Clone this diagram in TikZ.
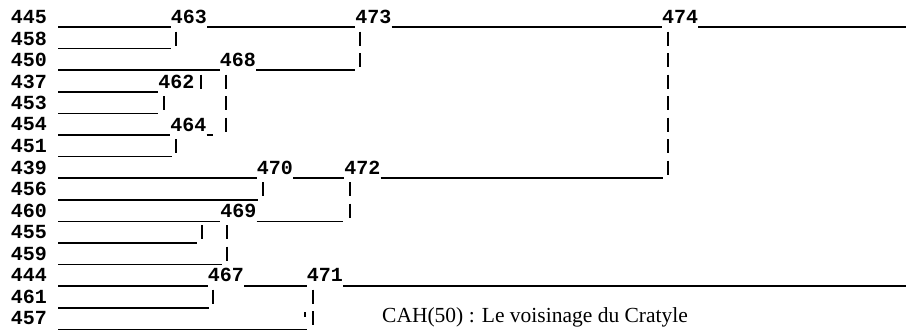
\documentclass[tikz,border=0pt]{standalone}
\usepackage{fontspec}
\setmainfont{Liberation Serif}
\newfontfamily\monof{Liberation Mono}
\begin{document}
\begin{tikzpicture}[x=1pt,y=-1pt,
  lab/.style={font=\monof\bfseries\fontsize{20}{20}\selectfont, inner sep=0pt, anchor=center},
  hl/.style={line width=1.5pt},
  vb/.style={line width=1.5pt, dash pattern=on 14pt off 7.5pt},
  capt/.style={anchor=base west, inner sep=0pt, font=\fontsize{21.5}{24}\selectfont}
]
\useasboundingbox (0,0) rectangle (906,332);
% row line coordinates
\foreach \i in {0,...,14} { \coordinate (r\i) at (0,{27+21.6*\i}); }
% leaf labels
\foreach \n [count=\i from 0] in {445,458,450,437,453,454,451,439,456,460,455,459,444,461,457} {
  \node[lab] (l\n) at (29,{17+21.5*\i}) {\n};
}
% cluster labels
\node[lab] (n463) at (189,17) {463};
\node[lab] (n473) at (373.5,17) {473};
\node[lab] (n474) at (680,17) {474};
\node[lab] (n468) at (238,60) {468};
\node[lab] (n462) at (176.5,81.5) {462};
\node[lab] (n464) at (188.5,124.5) {464};
\node[lab] (n470) at (275,167.5) {470};
\node[lab] (n472) at (362.5,167.5) {472};
\node[lab] (n469) at (238.5,210.5) {469};
\node[lab] (n467) at (226,275) {467};
\node[lab] (n471) at (325,275) {471};
% leaf horizontal lines
\coordinate (st) at (58,0);
\draw[hl] (st |- r0) -- (n463.west |- r0);
\draw[hl] (st |- r1) -- (171,{27+21.6*1});
\draw[hl] (st |- r2) -- (n468.west |- r2);
\draw[hl] (st |- r3) -- (n462.west |- r3);
\draw[hl] (st |- r4) -- (158,{27+21.6*4});
\draw[hl] (st |- r5) -- (n464.west |- r5);
\draw[hl] (st |- r6) -- (172,{27+21.6*6});
\draw[hl] (st |- r7) -- (n470.west |- r7);
\draw[hl] (st |- r8) -- (258,{27+21.6*8});
\draw[hl] (st |- r9) -- (n469.west |- r9);
\draw[hl] (st |- r10) -- (197,{27+21.6*10});
\draw[hl] (st |- r11) -- (222,{27+21.6*11});
\draw[hl] (st |- r12) -- (n467.west |- r12);
\draw[hl] (st |- r13) -- (209,{27+21.6*13});
\draw[hl] (st |- r14) -- (307,{27+21.6*14});
% cluster horizontal lines
\draw[hl] (n463.east |- r0) -- (n473.west |- r0);
\draw[hl] (n473.east |- r0) -- (n474.west |- r0);
\draw[hl] (n474.east |- r0) -- (906,27);
\draw[hl] (n468.east |- r2) -- (355,{27+21.6*2});
\draw[hl] (n464.east |- r5) -- (213,{27+21.6*5});
\draw[hl] (n470.east |- r7) -- (n472.west |- r7);
\draw[hl] (n472.east |- r7) -- (663,{27+21.6*7});
\draw[hl] (n469.east |- r9) -- (343,{27+21.6*9});
\draw[hl] (n467.east |- r12) -- (n471.west |- r12);
\draw[hl] (n471.east |- r12) -- (906,{27+21.6*12});
% vertical bars
\foreach \x/\a/\b in {176/1/1, 360/1/2, 668/1/7, 201/3/3, 164/4/4, 226/3/5, 176/6/6, 263/8/8, 350/8/9, 202/10/10, 227/10/11, 213/13/13, 313/13/14} {
  \draw[vb] (\x,{17+21.5*\a-7}) -- (\x,{17+21.5*\b+7});
}
\draw[line width=1.2pt] (305,312) -- (305,317);
% caption
\node[capt] (cap) at (382,322) {CAH(50) : Le voisinage du Cratyle};
\end{tikzpicture}
\end{document}
